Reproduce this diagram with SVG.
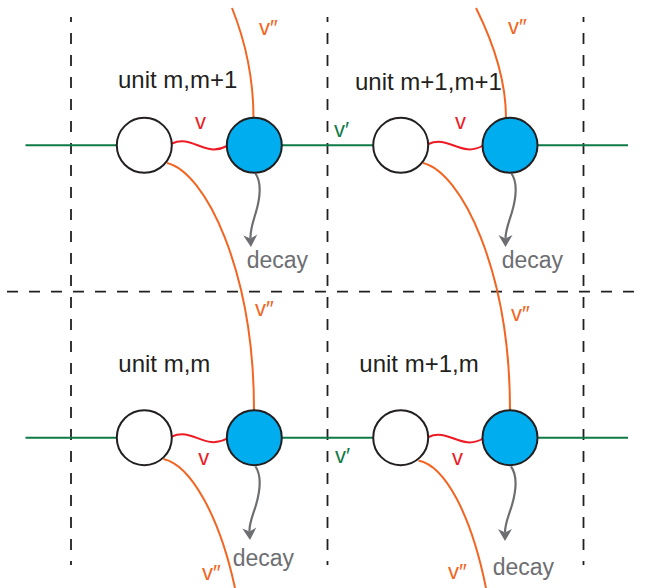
<svg xmlns="http://www.w3.org/2000/svg" width="645" height="588" viewBox="0 0 645 588">
<defs>
<style>
.grid{fill:none;stroke:#231f20;stroke-width:1.8;stroke-dasharray:11 11}
.chain{fill:none;stroke:#0f7a46;stroke-width:2}
.vpp{fill:none;stroke:#f26522;stroke-width:2}
.vw{fill:none;stroke:#ed1c24;stroke-width:2}
.dec{fill:none;stroke:#6d6e71;stroke-width:2.2;marker-end:url(#ah)}
.wn{fill:#ffffff;stroke:#231f20;stroke-width:2}
.bn{fill:#00aeef;stroke:#231f20;stroke-width:2}
text{font-family:"Liberation Sans",Arial,sans-serif}
.unit{font-size:24px;fill:#231f20}
.tdec{font-size:23px;fill:#6d6e71}
.tv{font-size:22px;fill:#ed1c24}
.tvp{font-size:22px;fill:#0f7a46}
.tvpp{font-size:22px;fill:#f26522}
</style>
<marker id="ah" markerUnits="userSpaceOnUse" refX="3.5" refY="0" orient="auto" overflow="visible">
<path d="M12,0 L0,-7 L3.5,0 L0,7 Z" fill="#6d6e71"/>
</marker>
</defs>
<rect width="645" height="588" fill="#ffffff"/>
<g id="grid">
<line class="grid" x1="71" y1="17" x2="71" y2="565" stroke-dashoffset="6"/>
<line class="grid" x1="327.5" y1="17" x2="327.5" y2="565" stroke-dashoffset="6"/>
<line class="grid" x1="583.5" y1="17" x2="583.5" y2="565" stroke-dashoffset="6"/>
<line class="grid" x1="7" y1="291.7" x2="645" y2="291.7"/>
</g>
<g id="connectors">
<line class="chain" x1="25.5" y1="145.3" x2="117" y2="145.3"/>
<line class="chain" x1="281.5" y1="145.3" x2="373" y2="145.3"/>
<line class="chain" x1="537.5" y1="145.3" x2="628" y2="145.3"/>
<line class="chain" x1="25.5" y1="437.7" x2="117" y2="437.7"/>
<line class="chain" x1="281.5" y1="437.7" x2="373" y2="437.7"/>
<line class="chain" x1="537.5" y1="437.7" x2="628" y2="437.7"/>
<path class="vw" d="M172,143.5 C192,134 205,158 227,146"/>
<path class="vw" d="M428.5,144 C448.5,134.5 461.5,158.5 483,145.5"/>
<path class="vw" d="M172,436.5 C192,427 205,451 227,438.5"/>
<path class="vw" d="M428.5,437 C448.5,427.5 461.5,451.5 483,438.5"/>
<path class="vpp" d="M232,8 C244,38 253.5,75 253.5,118"/>
<path class="vpp" d="M476,8 C490,36 506,75 506,118"/>
<path class="vpp" d="M167,163 C205,172 254,270 254,410.5"/>
<path class="vpp" d="M423,163 C461,172 510,270 510,410.5"/>
<path class="vpp" d="M163.5,459 C190,465 219,514 235,588"/>
<path class="vpp" d="M418.5,460.5 C445,466 471,514 486,588"/>
<path class="dec" d="M255.5,173.5 C262,183 260,198 256,212 C253,222 250,230 250.5,238.5"/>
<path class="dec" d="M511.5,173.5 C518,183 516,198 512,212 C509,222 505.5,230 505.5,238.5"/>
<path class="dec" d="M255.5,466.5 C262,476 260,491 256,505 C253,515 249,523 249.5,531.5"/>
<path class="dec" d="M511,466.5 C518,476 516,491 512,505 C509,515 505,523 505,532.5"/>
</g>
<g id="node-mm1-a"><circle class="wn" cx="144.3" cy="145.3" r="27.5"/></g>
<g id="node-mm1-b"><circle class="bn" cx="254.3" cy="145.3" r="27.5"/></g>
<g id="node-m1m1-a"><circle class="wn" cx="400.7" cy="145.3" r="27.5"/></g>
<g id="node-m1m1-b"><circle class="bn" cx="510" cy="145.3" r="27.5"/></g>
<g id="node-mm-a"><circle class="wn" cx="144.3" cy="437.7" r="27.5"/></g>
<g id="node-mm-b"><circle class="bn" cx="254.3" cy="437.7" r="27.5"/></g>
<g id="node-m1m-a"><circle class="wn" cx="400.7" cy="437.7" r="27.5"/></g>
<g id="node-m1m-b"><circle class="bn" cx="510" cy="437.7" r="27.5"/></g>
<g id="labels">
<text class="unit" x="118" y="87.5">unit m,m+1</text>
<text class="unit" x="355" y="89.5">unit m+1,m+1</text>
<text class="unit" x="118.3" y="371.7">unit m,m</text>
<text class="unit" x="359.3" y="371.7">unit m+1,m</text>
<text class="tdec" x="246.7" y="268.3">decay</text>
<text class="tdec" x="501.7" y="268.3">decay</text>
<text class="tdec" x="232.7" y="566">decay</text>
<text class="tdec" x="492.7" y="575">decay</text>
<text class="tv" x="195" y="129.3">v</text>
<text class="tv" x="455" y="128.5">v</text>
<text class="tv" x="198.3" y="465">v</text>
<text class="tv" x="452" y="465">v</text>
<text class="tvp" x="334" y="136.5">v′</text>
<text class="tvp" x="335" y="463">v′</text>
<text class="tvpp" x="259" y="35">v″</text>
<text class="tvpp" x="508" y="33.5">v″</text>
<text class="tvpp" x="255" y="315.5">v″</text>
<text class="tvpp" x="511" y="321">v″</text>
<text class="tvpp" x="202" y="580">v″</text>
<text class="tvpp" x="448" y="578.5">v″</text>
</g>
</svg>
